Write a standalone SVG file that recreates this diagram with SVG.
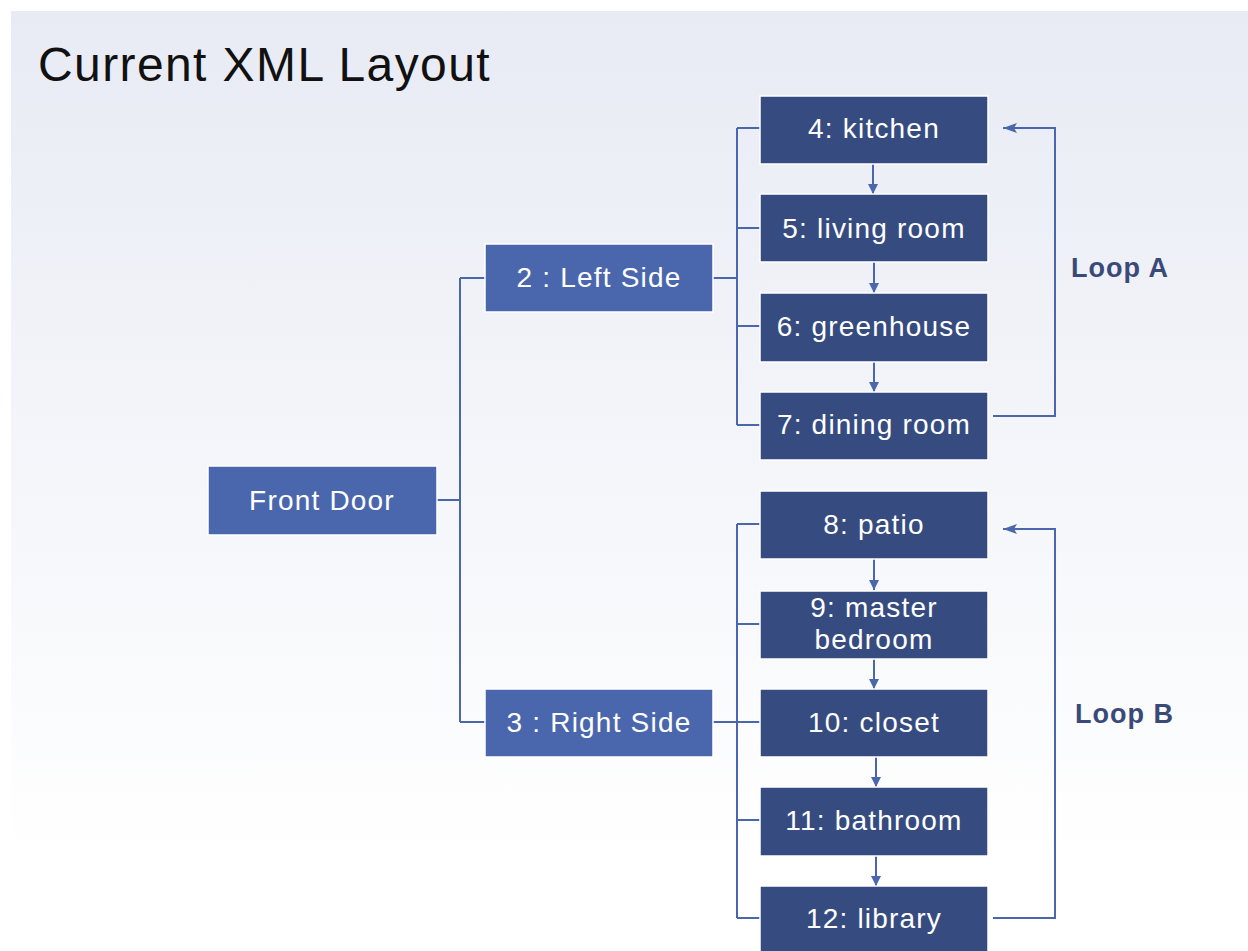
<svg xmlns="http://www.w3.org/2000/svg" width="1248" height="951" viewBox="0 0 1248 951">
<defs>
<linearGradient id="bg" x1="0" y1="11" x2="0" y2="860" gradientUnits="userSpaceOnUse">
<stop offset="0" stop-color="#e8ebf4"/>
<stop offset="1" stop-color="#ffffff"/>
</linearGradient>
<marker id="arr" viewBox="0 0 10 10" refX="10" refY="5" markerWidth="10" markerHeight="10" markerUnits="userSpaceOnUse" orient="auto">
<path d="M0,0 L10,5 L0,10 z" fill="#4a67ad"/>
</marker>
<marker id="arrL" viewBox="0 0 14 10" refX="14" refY="5" markerWidth="14" markerHeight="10" markerUnits="userSpaceOnUse" orient="auto">
<path d="M0,0 L14,5 L0,10 L3,5 z" fill="#4a67ad"/>
</marker>
</defs>
<style>
.mid{fill:#4a67ad;stroke:#ffffff;stroke-width:1.5}
.room{fill:#364c80;stroke:#ffffff;stroke-width:1.5}
.t{font-family:"Liberation Sans",Arial,sans-serif;font-size:28px;letter-spacing:1.2px;fill:#ffffff;text-anchor:middle;dominant-baseline:central}
.c{fill:none;stroke:#4a67ad;stroke-width:2}
.loop{font-family:"Liberation Sans",Arial,sans-serif;font-size:27px;letter-spacing:1px;font-weight:bold;fill:#3a4a78}
</style>
<rect x="0" y="0" width="1248" height="951" fill="#ffffff"/>
<rect x="11" y="11" width="1237" height="940" fill="url(#bg)"/>
<text x="38" y="81" font-family="'Liberation Sans',Arial,sans-serif" font-size="48" letter-spacing="1.4" fill="#111111">Current XML Layout</text>

<g id="connectors">
<path class="c" d="M437,500 H460 M460,278 V722 M460,278 H485 M460,722 H485"/>
<path class="c" d="M713,278 H737 M737,128 V425 M737,128 H760 M737,228 H760 M737,326 H760 M737,425 H760"/>
<path class="c" d="M713,722 H737 M737,524 V918 M737,524 H760 M737,624 H760 M737,722 H760 M737,820 H760 M737,918 H760"/>
<path class="c" d="M873,164 V194" marker-end="url(#arr)"/>
<path class="c" d="M874,262 V293" marker-end="url(#arr)"/>
<path class="c" d="M874,361 V392" marker-end="url(#arr)"/>
<path class="c" d="M874,559 V590" marker-end="url(#arr)"/>
<path class="c" d="M874,658 V689" marker-end="url(#arr)"/>
<path class="c" d="M876,757 V787" marker-end="url(#arr)"/>
<path class="c" d="M876,856 V886" marker-end="url(#arr)"/>
<path class="c" d="M993,416 H1055 V128 H1003" marker-end="url(#arrL)"/>
<path class="c" d="M993,918 H1055 V529 H1003" marker-end="url(#arrL)"/>
</g>

<g id="front-door"><rect class="mid" x="208" y="466" width="229" height="69"/><text class="t" x="322" y="500">Front Door</text></g>
<g id="left-side"><rect class="mid" x="485" y="244" width="228" height="68"/><text class="t" x="599" y="277">2 : Left Side</text></g>
<g id="right-side"><rect class="mid" x="485" y="689" width="228" height="68"/><text class="t" x="599" y="722">3 : Right Side</text></g>

<g id="n4"><rect class="room" x="760" y="96" width="228" height="68"/><text class="t" x="874" y="128">4: kitchen</text></g>
<g id="n5"><rect class="room" x="760" y="194" width="228" height="68"/><text class="t" x="874" y="228">5: living room</text></g>
<g id="n6"><rect class="room" x="760" y="293" width="228" height="69"/><text class="t" x="874" y="326">6: greenhouse</text></g>
<g id="n7"><rect class="room" x="760" y="392" width="228" height="68"/><text class="t" x="874" y="424">7: dining room</text></g>
<g id="n8"><rect class="room" x="760" y="491" width="228" height="68"/><text class="t" x="874" y="524">8: patio</text></g>
<g id="n9"><rect class="room" x="760" y="591" width="228" height="68"/><text class="t" x="874" y="607">9: master</text><text class="t" x="874" y="639">bedroom</text></g>
<g id="n10"><rect class="room" x="760" y="689" width="228" height="68"/><text class="t" x="874" y="722">10: closet</text></g>
<g id="n11"><rect class="room" x="760" y="787" width="228" height="69"/><text class="t" x="874" y="820">11: bathroom</text></g>
<g id="n12"><rect class="room" x="760" y="886" width="228" height="70"/><text class="t" x="874" y="918">12: library</text></g>

<g id="loop-a"><text class="loop" x="1071" y="277">Loop A</text></g>
<g id="loop-b"><text class="loop" x="1075" y="723">Loop B</text></g>
</svg>
